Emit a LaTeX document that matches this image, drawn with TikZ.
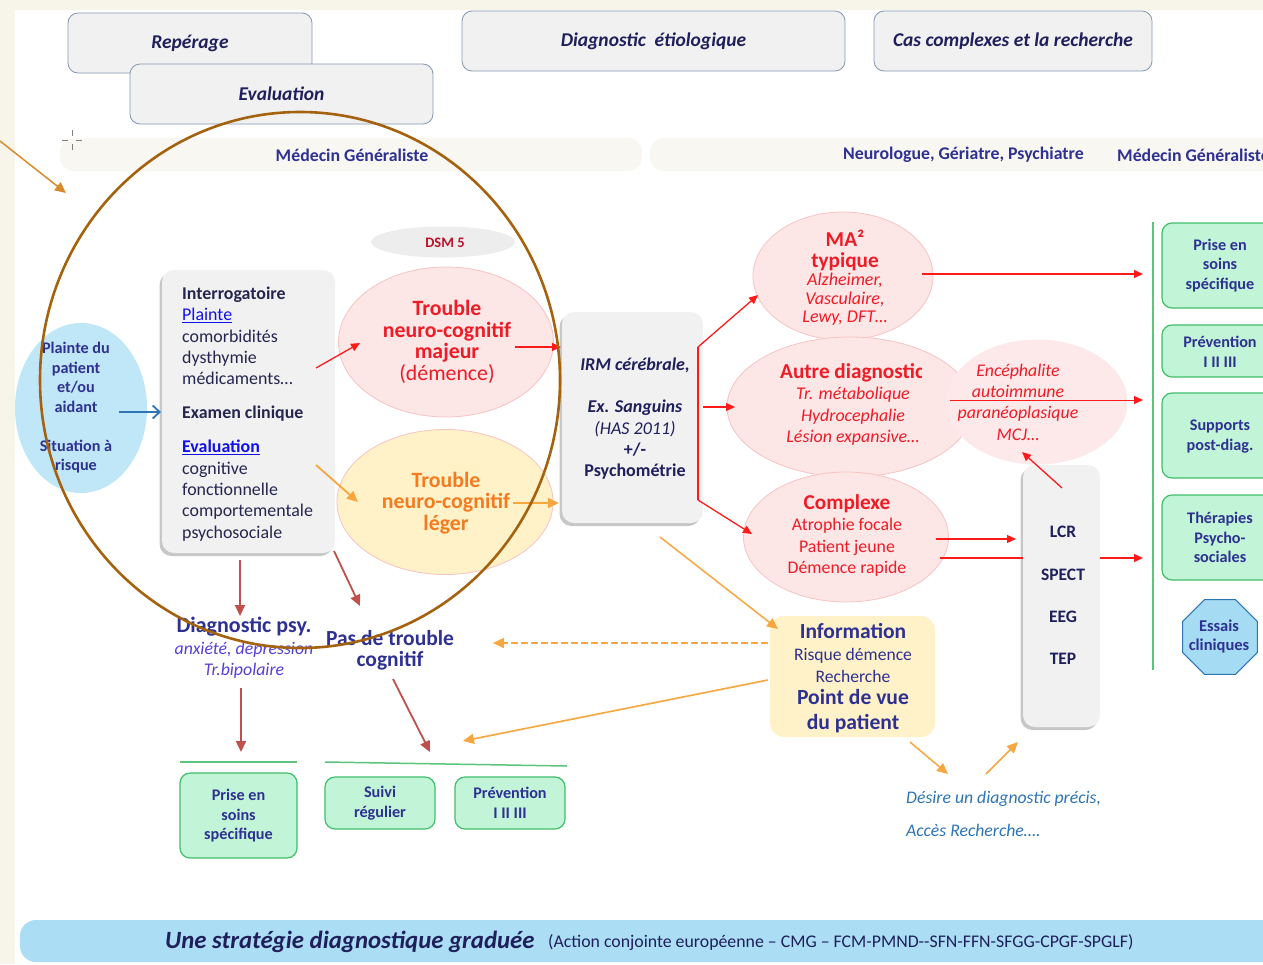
\documentclass[tikz,border=0pt]{standalone}
\usepackage{fontspec}
\setmainfont{Carlito}
\usetikzlibrary{arrows.meta,shapes.geometric,shadows}
\newcommand{\myfs}[2]{\fontsize{#1}{#2}\selectfont}
\definecolor{cream}{HTML}{F7F5EA}
\definecolor{boxg}{HTML}{F1F1F2}
\definecolor{hdrb}{HTML}{8497B0}
\definecolor{hdrtext}{HTML}{1F1F5C}
\definecolor{navy}{HTML}{2E3192}
\definecolor{dnavy}{HTML}{25254F}
\definecolor{linkb}{HTML}{1010E8}
\definecolor{tred}{HTML}{EE1C25}
\definecolor{dsmred}{HTML}{C0102A}
\definecolor{pinkf}{HTML}{FDE6E6}
\definecolor{pinkb}{HTML}{F7C3C3}
\definecolor{encf}{HTML}{FDE9E9}
\definecolor{yelf}{HTML}{FFF2C8}
\definecolor{torange}{HTML}{F47B20}
\definecolor{arrred}{HTML}{FF1A1A}
\definecolor{orange1}{HTML}{F8A640}
\definecolor{orange2}{HTML}{D98A2B}
\definecolor{brred}{HTML}{C0504D}
\definecolor{greenf}{HTML}{C2F5D8}
\definecolor{greenb}{HTML}{3FBF6A}
\definecolor{gline}{HTML}{5CC47C}
\definecolor{bluef}{HTML}{C0E7F7}
\definecolor{blueb}{HTML}{2E75B6}
\definecolor{essf}{HTML}{A5DCF4}
\definecolor{purp}{HTML}{5540D8}
\definecolor{brown1}{HTML}{A5620E}
\definecolor{bannerf}{HTML}{ABDEF4}
\definecolor{bandf}{HTML}{F8F7F1}
\definecolor{dsmf}{HTML}{EDEDED}
\begin{document}
\begin{tikzpicture}[x=1pt,y=-1pt,
  hdr/.style={draw=hdrb, fill=boxg, rounded corners=10pt, line width=0.8pt, font=\myfs{19.5}{22}\bfseries\itshape, text=hdrtext},
  graybox/.style={fill=boxg, rounded corners=12pt, drop shadow={shadow xshift=-2.5pt, shadow yshift=-3pt, fill=black, opacity=0.22}},
  pinkell/.style={ellipse, fill=pinkf, draw=pinkb, line width=0.8pt},
  greenbox/.style={draw=greenb, fill=greenf, rounded corners=10pt, line width=1.2pt},
  gtext/.style={align=center, font=\myfs{16.2}{19.5}\bfseries, text=navy},
  redarr/.style={draw=arrred, line width=1.3pt, -{Triangle[length=9pt,width=8pt]}},
  orarr/.style={draw=orange1, line width=1.8pt, -{Triangle[length=11pt,width=10pt]}},
  brarr/.style={draw=brred, line width=1.8pt, -{Triangle[length=11pt,width=10pt]}},
  medtext/.style={font=\myfs{17.8}{20}\bfseries, text=navy}
]
\useasboundingbox (0,0) rectangle (1263,964);
\clip (0,0) rectangle (1263,964);
% background
\fill[cream] (0,0) rectangle (1263,964);
\fill[white] (15,10) rectangle (1263,964);
% bands
\fill[bandf, rounded corners=14pt] (60,138) rectangle (642,171);
\fill[bandf, rounded corners=14pt] (650,138) rectangle (1290,171);
\node[medtext] (mg1) at (352,155) {Médecin Généraliste};
\node[medtext, anchor=west, inner sep=0] (neu) at (843,155) {Neurologue, Gériatre, Psychiatre};
\node[medtext, anchor=west, inner sep=0] (mg2) at (1117,155) {Médecin Généraliste};
% header boxes
\node[hdr, minimum width=244, minimum height=60] (rep) at (190,43) {Repérage};
\node[hdr, minimum width=303, minimum height=60] (eva) at (281.5,94) {Evaluation};
\node[hdr, minimum width=383, minimum height=60] (etio) at (653.5,41) {Diagnostic~~étiologique};
\node[hdr, minimum width=278, minimum height=60] (cas) at (1013,41) {Cas complexes et la recherche};
% crosshair
\draw[gray, line width=0.8pt] (62,140) -- (68,140) (76,140) -- (82,140) (72,130) -- (72,136) (72,144) -- (72,150);
% left orange arrow
\coordinate (la0) at (0,141);
\coordinate (la1) at (66,193);
\draw[orarr, draw=orange2, line width=1.5pt] (la0) -- (la1);
% plainte ellipse
\node[ellipse, fill=bluef, minimum width=132, minimum height=170] (pl) at (81,408) {};
\node[align=center, font=\myfs{16.2}{19.5}\bfseries, text=navy] (plt) at (76,408) {Plainte du\\patient\\et/ou\\aidant\\[19.5pt]Situation à\\risque};
% interrogatoire box
\node[graybox, minimum width=173, minimum height=283] (inter) at (248.5,411.5) {};
\node[align=left, anchor=west, inner sep=0, font=\myfs{17.9}{21.3}, text=dnavy] (intt) at (182,414) {\textbf{Interrogatoire}\\\textcolor{linkb}{\underline{Plainte}}\\comorbidités\\dysthymie\\médicaments…\\[12.7pt]\textbf{Examen clinique}\\[12.7pt]\textcolor{linkb}{\underline{\textbf{Evaluation}}}\\cognitive\\fonctionnelle\\comportementale\\psychosociale};
\coordinate (ba0) at (119,412);
\coordinate (ba1) at (161,412);
\draw[blueb, line width=1.8pt, -{Straight Barb[length=7pt,width=13pt]}] (ba0) -- (ba1);
% DSM
\node[ellipse, fill=dsmf, minimum width=144, minimum height=31] (dsm) at (443,242) {};
\node[font=\myfs{14.5}{16}\bfseries, text=dsmred] (dsmt) at (445,243) {DSM 5};
% trouble majeur / leger
\node[pinkell, minimum width=215, minimum height=150] (maj) at (446,342) {};
\node[align=center, font=\myfs{21.8}{21.5}, text=tred] (majt) at (447,342) {\textbf{Trouble}\\\textbf{neuro-cognitif}\\\textbf{majeur}\\(démence)};
\node[ellipse, fill=yelf, draw=pinkb, line width=0.8pt, minimum width=216, minimum height=145] (leg) at (445,502) {};
\node[align=center, font=\myfs{21.8}{21.5}\bfseries, text=torange] (legt) at (446,503) {Trouble\\neuro-cognitif\\léger};
% IRM box
\node[graybox, minimum width=141, minimum height=211] (irm) at (632.5,417.5) {};
\node[align=center, font=\myfs{18}{21.3}, text=hdrtext] (irmt) at (635,418.5) {\textbf{\textit{IRM cérébrale,}}\\[21.3pt]\textbf{\textit{Ex. Sanguins}}\\\textit{(HAS 2011)}\\\textbf{+/-}\\\textbf{Psychométrie}};
% arrows into trouble ellipses and IRM
\coordinate (a1s) at (316,368); \coordinate (a1e) at (360,343);
\draw[redarr] (a1s) -- (a1e);
\coordinate (a2s) at (316,465); \coordinate (a2e) at (358,502);
\draw[orarr] (a2s) -- (a2e);
\coordinate (a3s) at (515,347); \coordinate (a3e) at (561,347);
\draw[redarr] (a3s) -- (a3e);
\coordinate (a4s) at (513,503); \coordinate (a4e) at (559,503);
\draw[orarr, line width=1.5pt] (a4s) -- (a4e);
% right ellipses
\node[pinkell, minimum width=180, minimum height=128] (ma) at (843,276) {};
\node[pinkell, minimum width=246, minimum height=140] (aut) at (850,407) {};
\node[pinkell, minimum width=205, minimum height=130] (cpx) at (846,537) {};
\node[align=center, font=\myfs{21.2}{21}\bfseries, text=tred] (mat1) at (845,250.5) {MA²\\typique};
\node[align=center, font=\myfs{18}{18.5}\itshape, text=tred] (mat2) at (845,299.5) {Alzheimer,\\Vasculaire,\\Lewy, DFT…};
\begin{scope}
\clip (700,350) rectangle (921,392);
\node[font=\myfs{21.2}{22}\bfseries, text=tred] (autt1) at (852,373) {Autre diagnostic};
\end{scope}
\node[align=center, font=\myfs{17.9}{21.5}\itshape, text=tred] (autt2) at (853,416.5) {Tr. métabolique\\Hydrocephalie\\Lésion expansive…};
\node[ellipse, fill=encf, minimum width=181, minimum height=125] (enc) at (1037,402) {};
\node[align=center, font=\myfs{17.8}{21.3}\itshape, text=tred] (enct) at (1018,402) {Encéphalite\\autoimmune\\paranéoplasique\\MCJ…};
\node[font=\myfs{21.2}{22}\bfseries, text=tred] (cpxt1) at (847,504) {Complexe};
\node[align=center, font=\myfs{17.8}{21.5}, text=tred] (cpxt2) at (847,547.5) {Atrophie focale\\Patient jeune\\Démence rapide};
% red fork from IRM
\coordinate (f1) at (698,347); \coordinate (f2) at (698,407); \coordinate (f3) at (698,500);
\coordinate (fe1) at (758,295); \coordinate (fe2) at (735,407); \coordinate (fe3) at (752,534);
\draw[arrred, line width=1.3pt] (f1) -- (f3);
\draw[redarr] (f1) -- (fe1);
\draw[redarr] (irm.east |- f2) -- (fe2);
\draw[redarr] (f3) -- (fe3);
% LCR box
\node[graybox, minimum width=77, minimum height=262] (lcr) at (1061.5,596) {};
\node[align=center, font=\myfs{17.5}{42.3}\bfseries, text=hdrtext] (lcrt) at (1063,595.5) {LCR\\SPECT\\EEG\\TEP};
% red arrows to right
\coordinate (r1s) at (922,274); \coordinate (r1e) at (1143,274);
\draw[redarr] (r1s) -- (r1e);
\coordinate (r2s) at (950,400); \coordinate (r2e) at (1143,400);
\draw[redarr, line width=1pt] (r2s) -- (r2e);
\coordinate (r3s) at (936,539); \coordinate (r3e) at (1016,539);
\draw[redarr] (r3s) -- (r3e);
\coordinate (r4s) at (940,558);
\draw[arrred, line width=1.3pt] (r4s) -- (lcr.west |- r4s);
\coordinate (r5e) at (1143,558);
\draw[redarr] (lcr.east |- r4s) -- (r5e);
\coordinate (r6s) at (1062,488); \coordinate (r6e) at (1022,452);
\draw[redarr] (r6s) -- (r6e);
% green right column
\coordinate (gl0) at (1153,222); \coordinate (gl1) at (1153,670);
\draw[gline, line width=1.5pt] (gl0) -- (gl1);
\node[greenbox, minimum width=118, minimum height=85] (rb1) at (1221,265.5) {};
\node[gtext] (rb1t) at (1220,265.5) {Prise en\\soins\\spécifique};
\node[greenbox, minimum width=118, minimum height=52] (rb2) at (1221,351) {};
\node[gtext] (rb2t) at (1220,352) {Prévention\\I II III};
\node[greenbox, minimum width=118, minimum height=85] (rb3) at (1221,435.5) {};
\node[gtext] (rb3t) at (1220,436.5) {Supports\\post-diag.};
\node[greenbox, minimum width=118, minimum height=85] (rb4) at (1221,537.5) {};
\node[gtext] (rb4t) at (1220,537.5) {Thérapies\\Psycho-\\sociales};
\node[regular polygon, regular polygon sides=8, minimum size=81, draw=blueb, fill=essf, line width=1pt] (ess) at (1220,637) {};
\node[gtext, font=\myfs{16.5}{19}\bfseries] (esst) at (1219,636.5) {Essais\\cliniques};
% information box
\node[fill=yelf, rounded corners=14pt, minimum width=165, minimum height=121] (info) at (852.5,676.5) {};
\node[font=\myfs{21.5}{22}\bfseries, text=navy] (inf1) at (853,631) {Information};
\node[align=center, font=\myfs{17.6}{22}, text=navy] (inf2) at (853,665) {Risque démence\\Recherche};
\node[align=center, font=\myfs{21.6}{25}\bfseries, text=navy] (inf3) at (853,711.5) {Point de vue\\du patient};
% orange arrows around information
\coordinate (o1s) at (660,537); \coordinate (o1e) at (778,629);
\draw[orarr, line width=1.5pt] (o1s) -- (o1e);
\coordinate (o2s) at (768,643); \coordinate (o2e) at (493,643);
\draw[orarr, line width=1.6pt, dash pattern=on 7pt off 3pt] (o2s) -- (o2e);
\coordinate (o3s) at (768,680); \coordinate (o3e) at (463,741);
\draw[orarr, line width=1.6pt] (o3s) -- (o3e);
\coordinate (o4s) at (910,742); \coordinate (o4e) at (948,774);
\draw[orarr, line width=1.5pt] (o4s) -- (o4e);
\coordinate (o5s) at (986,774); \coordinate (o5e) at (1018,742);
\draw[orarr, line width=1.5pt] (o5s) -- (o5e);
\node[anchor=west, inner sep=0, font=\myfs{17.7}{18}\itshape, text=blueb] (des) at (906,799) {Désire un diagnostic précis,};
\node[anchor=west, inner sep=0, font=\myfs{17.7}{18}\itshape, text=blueb] (acc) at (906,830) {Accès Recherche….};
% bottom left
\node[font=\myfs{22}{22}\bfseries, text=navy] (dpsy) at (244,627) {Diagnostic psy.};
\node[align=center, font=\myfs{17.8}{20.5}\itshape, text=purp] (dpsy2) at (244,660) {anxiété, dépression\\Tr.bipolaire};
\node[align=center, font=\myfs{21.5}{21.5}\bfseries, text=navy] (pdt) at (390,650.5) {Pas de trouble\\cognitif};
\coordinate (b1s) at (240,560); \coordinate (b1e) at (240,616);
\draw[brarr] (b1s) -- (b1e);
\coordinate (b2s) at (334,551); \coordinate (b2e) at (360,606);
\draw[brarr] (b2s) -- (b2e);
\coordinate (b3s) at (241,688); \coordinate (b3e) at (241,752);
\draw[brarr] (b3s) -- (b3e);
\coordinate (b4s) at (393,679); \coordinate (b4e) at (430,752);
\draw[brarr] (b4s) -- (b4e);
\coordinate (g1a) at (180,762); \coordinate (g1b) at (297,762);
\draw[gline, line width=1.5pt] (g1a) -- (g1b);
\coordinate (g2a) at (325,762); \coordinate (g2b) at (567,766);
\draw[gline, line width=1.5pt] (g2a) -- (g2b);
\node[greenbox, minimum width=117, minimum height=85] (bb1) at (238.5,815.5) {};
\node[gtext] (bb1t) at (238.5,816) {Prise en\\soins\\spécifique};
\node[greenbox, minimum width=110, minimum height=52] (bb2) at (380,803) {};
\node[gtext] (bb2t) at (380,803) {Suivi\\régulier};
\node[greenbox, minimum width=110, minimum height=52] (bb3) at (510,803) {};
\node[gtext] (bb3t) at (510,803) {Prévention\\I II III};
% banner
\fill[bannerf, rounded corners=16pt] (20,920) rectangle (1290,962);
\node[anchor=base west, inner sep=0, font=\myfs{24.8}{26}\bfseries\itshape, text=hdrtext] (ban1) at (165,948) {Une stratégie diagnostique graduée};
\node[anchor=base west, inner sep=0, font=\myfs{17.8}{18}, text=hdrtext] (ban2) at (548,947) {(Action conjointe européenne – CMG – FCM-PMND-{}-SFN-FFN-SFGG-CPGF-SPGLF)};
% big brown circle
\draw[brown1, line width=2.6pt] (300,380) ellipse [x radius=260, y radius=268];
\end{tikzpicture}
\end{document}
